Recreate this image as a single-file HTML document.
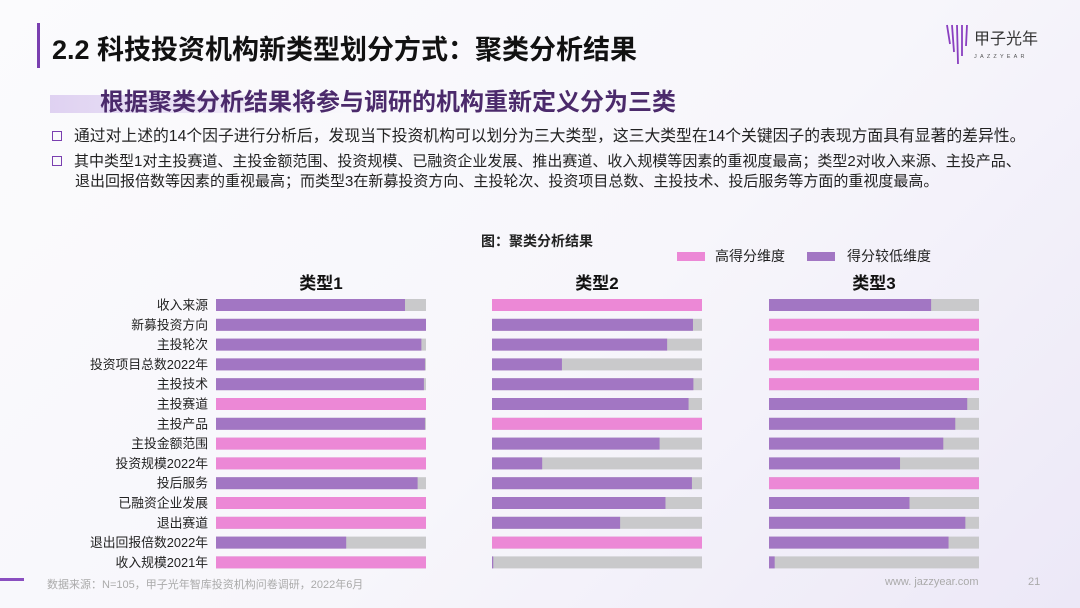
<!DOCTYPE html>
<html><head><meta charset="utf-8">
<style>
body{margin:0;width:1080px;height:608px;overflow:hidden;font-family:"Liberation Sans","Noto Sans CJK SC",sans-serif;background:linear-gradient(135deg,#fbfbfd 0%,#f7f6fb 55%,#ece8f7 100%);position:relative;color:#222}
.abs{position:absolute}
</style></head><body>
<div class="abs" style="left:37px;top:23px;width:3px;height:45px;background:#7a3fb0"></div>
<div class="abs" style="left:52px;top:28px;font-size:27px;font-weight:bold;color:#111;white-space:nowrap">2.2 科技投资机构新类型划分方式：聚类分析结果</div>
<div class="abs" style="left:944px;top:22px;width:100px;height:46px">
<svg width="100" height="46"><g stroke="#8a3fc0" stroke-width="1.8"><line x1="3" y1="3" x2="6" y2="22"/><line x1="8" y1="3" x2="10" y2="30"/><line x1="13" y1="3" x2="14" y2="42"/><line x1="18" y1="3" x2="18" y2="34"/><line x1="23" y1="3" x2="22" y2="24"/></g>
<text x="30" y="22" font-size="16" fill="#333" font-family="Noto Sans CJK SC,sans-serif">甲子光年</text><text x="30" y="36" font-size="5.5" letter-spacing="3.2" fill="#555">JAZZYEAR</text></svg></div>
<div class="abs" style="left:50px;top:95px;width:300px;height:18px;background:linear-gradient(90deg,rgba(220,205,240,.9),rgba(235,225,245,0))"></div>
<div class="abs" style="left:100px;top:82px;font-size:24px;font-weight:bold;color:#4b2a6b;white-space:nowrap">根据聚类分析结果将参与调研的机构重新定义分为三类</div>
<div class="abs" style="left:52px;top:127px;font-size:15.8px;line-height:20px;width:1020px;white-space:nowrap">
<span style="display:inline-block;width:8px;height:8px;border:1.5px solid #7a3fb0;margin-right:12px;vertical-align:0px"></span>通过对上述的14个因子进行分析后，发现当下投资机构可以划分为三大类型，这三大类型在14个关键因子的表现方面具有显著的差异性。</div>
<div class="abs" style="left:52px;top:152px;font-size:15px;line-height:20px;width:1020px;white-space:nowrap">
<span style="display:inline-block;width:8px;height:8px;border:1.5px solid #7a3fb0;margin-right:12px;vertical-align:0px"></span>其中类型1对主投赛道、主投金额范围、投资规模、已融资企业发展、推出赛道、收入规模等因素的重视度最高；类型2对收入来源、主投产品、<br><span style="padding-left:23px">退出回报倍数等因素的重视最高；而类型3在新募投资方向、主投轮次、投资项目总数、主投技术、投后服务等方面的重视度最高。</span></div>
<div class="abs" style="left:481px;top:231px;font-size:14px;font-weight:bold">图：聚类分析结果</div>
<div class="abs" style="left:677px;top:246px;font-size:14px;white-space:nowrap"><span style="display:inline-block;width:28px;height:9px;background:#ec88d6;margin-right:10px"></span>高得分维度</div>
<div class="abs" style="left:807px;top:246px;font-size:14px;white-space:nowrap"><span style="display:inline-block;width:28px;height:9px;background:#a276c3;margin-right:12px"></span>得分较低维度</div>
<svg id="chart" class="abs" style="left:0;top:0" width="1080" height="608"></svg>
<div class="abs" style="left:47px;top:576px;font-size:11px;color:#aaa">数据来源：N=105，甲子光年智库投资机构问卷调研，2022年6月</div>
<div class="abs" style="left:885px;top:576px;font-size:11px;color:#aaa">www. jazzyear.com</div>
<div class="abs" style="left:1028px;top:576px;font-size:11px;color:#aaa">21</div>
<div class="abs" style="left:0;top:578px;width:24px;height:3px;background:#8a4fc0"></div>
<script>
const categories=["收入来源","新募投资方向","主投轮次","投资项目总数2022年","主投技术","主投赛道","主投产品","主投金额范围","投资规模2022年","投后服务","已融资企业发展","退出赛道","退出回报倍数2022年","收入规模2021年"];
const panelTitles=["类型1","类型2","类型3"];
const type1Values=[0.90,1,0.978,0.995,0.99,1,0.995,1,1,0.96,1,1,0.62,1];
const type1High=[0,0,0,0,0,1,0,1,1,0,1,1,0,1];
const type2Values=[1,0.957,0.834,0.333,0.959,0.936,1,0.798,0.239,0.952,0.826,0.61,1,0.006];
const type2High=[1,0,0,0,0,0,1,0,0,0,0,0,1,0];
const type3Values=[0.772,1,1,1,1,0.944,0.887,0.83,0.624,1,0.669,0.935,0.855,0.027];
const type3High=[0,1,1,1,1,0,0,0,0,1,0,0,0,0];
const NS="http://www.w3.org/2000/svg";
const svg=document.getElementById('chart');
const panelX=[216,492,769], panelW=210;
const y0=305, step=19.8, bh=12;
const yPos=i=>y0+i*step;
const vals=[type1Values,type2Values,type3Values], highs=[type1High,type2High,type3High];
function mk(tag,attrs){const e=document.createElementNS(NS,tag);for(const k in attrs)e.setAttribute(k,attrs[k]);svg.appendChild(e);return e;}
categories.forEach((c,i)=>{
  const t=mk('text',{x:208,y:yPos(i)+4.5,'text-anchor':'end','font-size':12.8,fill:'#222'});
  t.textContent=c;
  
  
});
panelTitles.forEach((p,k)=>{
  const px=panelX[k];
  const xs=v=>px+v*panelW;
  const t=mk('text',{x:px+panelW/2,y:289,'text-anchor':'middle','font-size':17,'font-weight':'bold',fill:'#111'});
  t.textContent=p;
  
  
  vals[k].forEach((v,i)=>{
    const bg=mk('rect',{x:px,y:yPos(i)-bh/2,width:panelW,height:bh,fill:'#c9c9cb'});
    
    
    const r=mk('rect',{x:px,y:yPos(i)-bh/2,width:xs(v)-px,height:bh,fill:highs[k][i]?'#ec88d6':'#a276c3'});
    
    
  });
});
</script>
</body></html>
